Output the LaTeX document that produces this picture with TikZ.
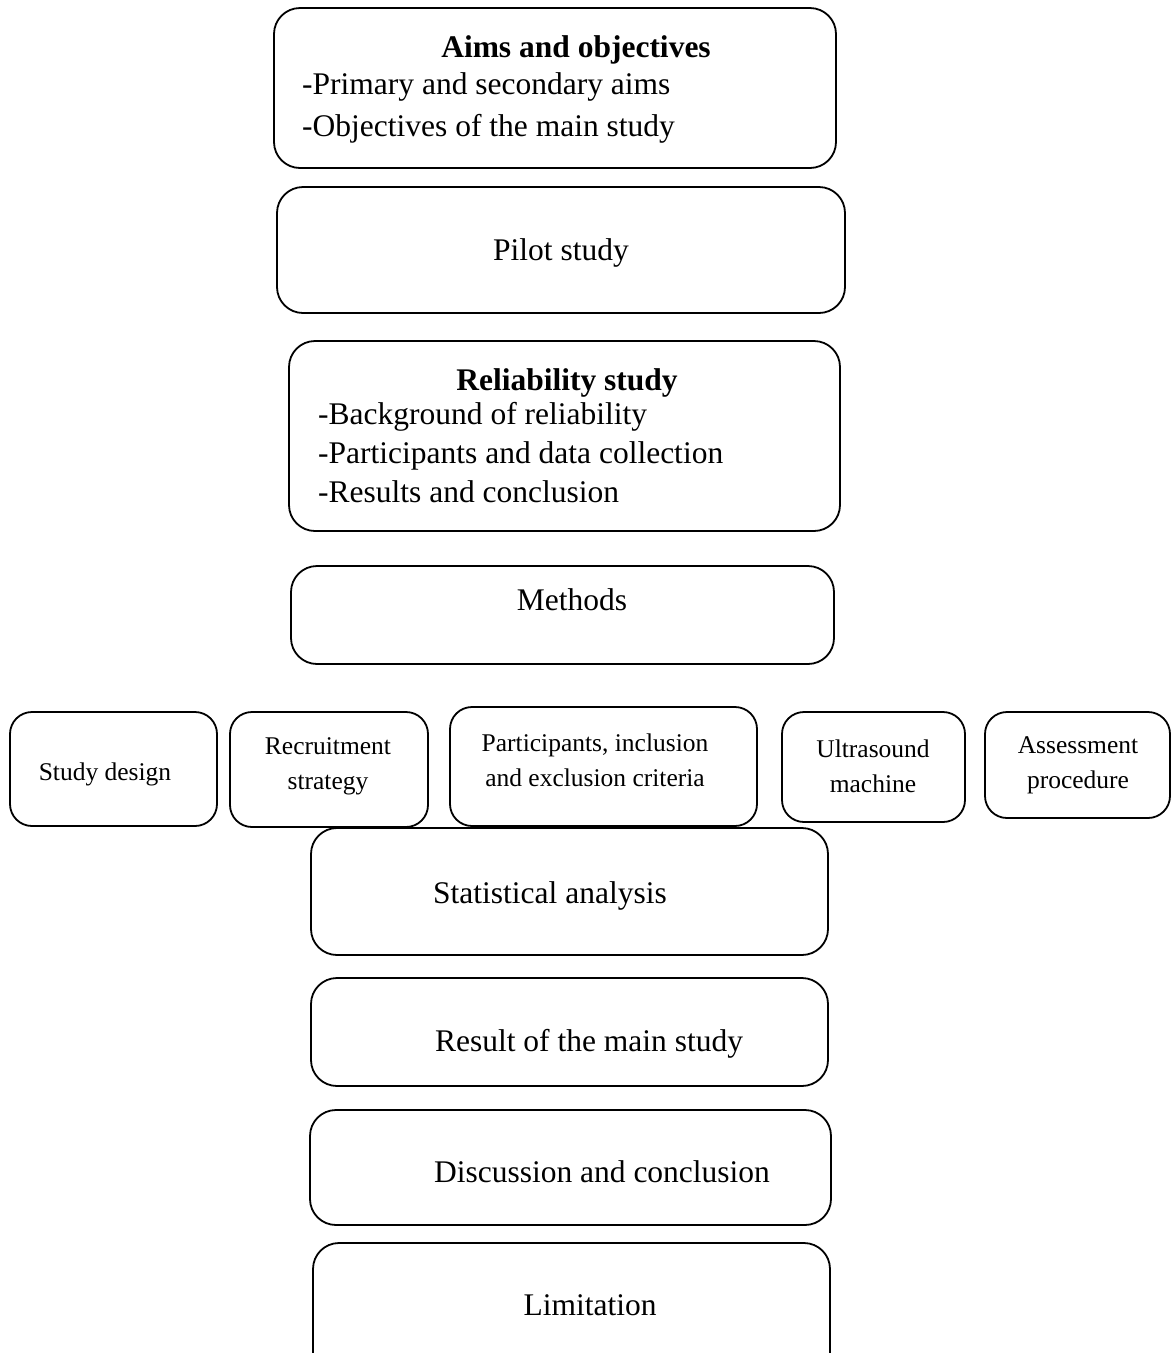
\documentclass[tikz,border=0pt]{standalone}
\usepackage{fontspec}
\setmainfont{Liberation Serif}
\begin{document}
\begin{tikzpicture}[x=1pt,y=-1pt,
  box/.style={draw=black,line width=1.8pt,rounded corners=26pt,inner sep=0pt},
  sbox/.style={draw=black,line width=1.8pt,rounded corners=22pt,inner sep=0pt},
  big/.style={font=\fontsize{31.5}{40}\selectfont,inner sep=0pt},
  small/.style={font=\fontsize{25.5}{35}\selectfont,inner sep=0pt,align=center}]
\useasboundingbox (0,0) rectangle (1173,1353);
% boxes
\node[box,minimum width=562pt,minimum height=160pt] (aims) at (555,88) {};
\node[box,minimum width=568pt,minimum height=126pt] (pilot) at (561,250) {};
\node[box,minimum width=551pt,minimum height=190pt] (rel) at (564.5,436) {};
\node[box,minimum width=543pt,minimum height=98pt] (meth) at (562.5,615) {};
\node[sbox,minimum width=207pt,minimum height=114pt] (sd) at (113.5,769) {};
\node[sbox,minimum width=198pt,minimum height=115pt] (rs) at (329,769.5) {};
\node[sbox,minimum width=307pt,minimum height=119pt] (pc) at (603.5,766.5) {};
\node[sbox,minimum width=183pt,minimum height=110pt] (um) at (873.5,767) {};
\node[sbox,minimum width=185pt,minimum height=106pt] (ap) at (1077.5,765) {};
\node[box,minimum width=517pt,minimum height=127pt] (stat) at (569.5,891.5) {};
\node[box,minimum width=517pt,minimum height=108pt] (res) at (569.5,1032) {};
\node[box,minimum width=521pt,minimum height=115pt] (disc) at (570.5,1167.5) {};
\begin{scope}
\clip (0,0) rectangle (1173,1353);
\node[box,minimum width=517pt,minimum height=140pt] (lim) at (571.5,1313) {};
\end{scope}
% texts
\node[big,font=\fontsize{31.5}{40}\selectfont\bfseries,anchor=mid] (aimsT) at (576,55) {Aims and objectives};
\node[big,anchor=mid west] (aims1) at (302,92) {-Primary and secondary aims};
\node[big,anchor=mid west] (aims2) at (302,134) {-Objectives of the main study};
\node[big,anchor=mid] (pilotT) at (561,258) {Pilot study};
\node[big,font=\fontsize{31.5}{40}\selectfont\bfseries,anchor=mid] (relT) at (567,388) {Reliability study};
\node[big,anchor=mid west] (rel1) at (318,422) {-Background of reliability};
\node[big,anchor=mid west] (rel2) at (318,461) {-Participants and data collection};
\node[big,anchor=mid west] (rel3) at (318,500) {-Results and conclusion};
\node[big,anchor=mid] (methT) at (572,608) {Methods};
\node[small] (sdT) at (105,774) {Study design};
\node[small] (rsT) at (328,766) {Recruitment\\strategy};
\node[small] (pcT) at (595,760) {Participants, inclusion\\and exclusion criteria};
\node[small] (umT) at (873,766) {Ultrasound\\machine};
\node[small] (apT) at (1078,765) {Assessment\\procedure};
\node[big,anchor=mid] (statT) at (550,901) {Statistical analysis};
\node[big,anchor=mid] (resT) at (589,1049) {Result of the main study};
\node[big,anchor=mid] (discT) at (602,1180) {Discussion and conclusion};
\node[big,anchor=mid] (limT) at (590,1313) {Limitation};
\end{tikzpicture}
\end{document}
